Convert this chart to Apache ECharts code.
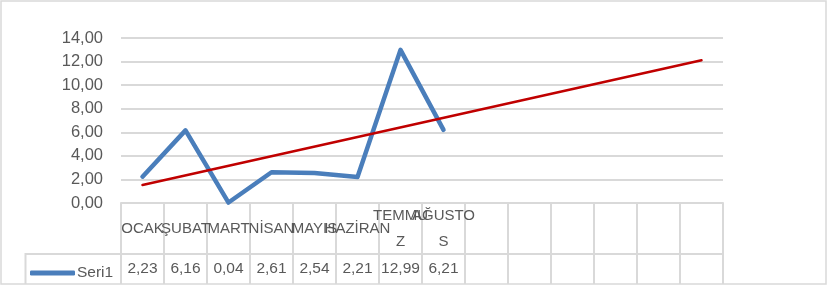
<!DOCTYPE html>
<html>
<head>
<meta charset="utf-8">
<script src="https://cdn.jsdelivr.net/npm/echarts@6/dist/echarts.min.js"></script>
<style>html,body{margin:0;padding:0;background:#fff;}#c{width:828px;height:285px;}</style>
</head>
<body>
<div id="c"></div>
<script>
// Data
var categories = ['OCAK','ŞUBAT','MART','NİSAN','MAYIS','HAZİRAN','TEMMUZ','AĞUSTOS','','','','','',''];
var seri1 = [2.23, 6.16, 0.04, 2.61, 2.54, 2.21, 12.99, 6.21, null, null, null, null, null, null];
// Linear trendline endpoints (first and last category)
var trend = [1.52, null, null, null, null, null, null, null, null, null, null, null, null, 12.11];
var yTicks = [0, 2, 4, 6, 8, 10, 12, 14];
var wrapped = {'TEMMUZ':'TEMMU\nZ', 'AĞUSTOS':'AĞUSTO\nS'};

function fmt(v){ return (v === null || v === undefined) ? '' : v.toFixed(2).replace('.', ','); }
var valueLabels = seri1.map(fmt);

var FONT = 'Liberation Sans';
var TXT = '#595959';
var GRID = '#D9D9D9';

var chart = echarts.init(document.getElementById('c'), null, {renderer:'canvas'});
chart.setOption({
  animation: false,
  textStyle: {fontFamily: FONT},
  grid: {left: 121, right: 105, top: 38, bottom: 82, outerBoundsMode: 'none', containLabel: false},
  xAxis: [{
    type: 'category',
    data: categories,
    boundaryGap: true,
    axisLine: {show: true, lineStyle: {color: GRID, width: 2}},
    axisTick: {show: true, length: 81, lineStyle: {color: GRID, width: 2}},
    splitLine: {show: false},
    axisLabel: {
      interval: 0, color: TXT, fontSize: 15, fontFamily: FONT,
      margin: 26, verticalAlign: 'middle', lineHeight: 26,
      formatter: function(v){ return wrapped[v] || v; }
    }
  }, {
    type: 'category',
    data: valueLabels,
    position: 'bottom',
    offset: 51,
    boundaryGap: true,
    axisLine: {show: true, lineStyle: {color: GRID, width: 2}},
    axisTick: {show: false},
    splitLine: {show: false},
    axisLabel: {interval: 0, color: TXT, fontSize: 15.5, fontFamily: FONT, margin: 15, verticalAlign: 'middle'}
  }],
  yAxis: {
    type: 'value', min: 0, max: 14, interval: 2,
    axisLine: {show: false}, axisTick: {show: false},
    splitLine: {lineStyle: {color: GRID, width: 2}},
    axisLabel: {color: TXT, fontSize: 16.5, fontFamily: FONT, margin: 18, formatter: function(v){ return fmt(v); }}
  },
  legend: {
    data: [{name: 'Seri1', icon: 'roundRect'}],
    left: 25, top: 260, itemWidth: 45, itemHeight: 5, itemGap: 0,
    textStyle: {color: TXT, fontSize: 15.5, fontFamily: FONT, padding: [0,0,0,-3]},
    selectedMode: false
  },
  series: [{
    name: 'Seri1', type: 'line', data: seri1, xAxisIndex: 0,
    symbol: 'none', lineStyle: {color: '#4A7EBB', width: 4.5, cap: 'round', join: 'round'},
    itemStyle: {color: '#4A7EBB'}
  }, {
    name: 'Doğrusal (Seri1)', type: 'line', data: trend, xAxisIndex: 0, connectNulls: true,
    symbol: 'none', lineStyle: {color: '#C00000', width: 2.5, cap: 'round'},
    itemStyle: {color: '#C00000'}, z: 3
  }],
  graphic: [{
    type: 'rect', silent: true,
    shape: {x: 1, y: 1, width: 825, height: 283},
    style: {fill: 'none', stroke: GRID, lineWidth: 1.5}
  }, {
    type: 'polyline', silent: true,
    shape: {points: [[121, 254], [25.5, 254], [25.5, 284]]},
    style: {fill: 'none', stroke: GRID, lineWidth: 2}
  }]
});
</script>
</body>
</html>
